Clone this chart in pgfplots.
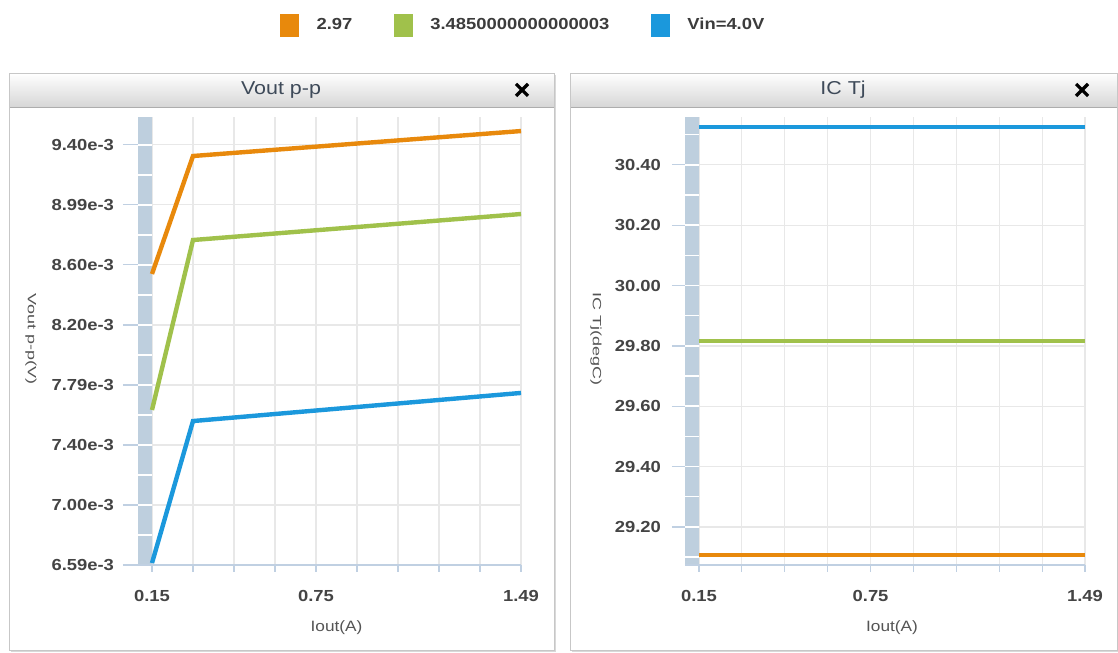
\documentclass[border=0pt]{standalone}
\usepackage{pgfplots}
\pgfplotsset{compat=1.18}
\usepackage{fontspec}
\setmainfont{Liberation Sans}[FakeStretch=1.15]
\newfontfamily\vfont{Liberation Sans}[FakeStretch=1.5]
\definecolor{cO}{RGB}{232,137,12}
\definecolor{cG}{RGB}{160,193,75}
\definecolor{cB}{RGB}{27,152,220}
\definecolor{band}{RGB}{190,207,222}
\definecolor{axl}{RGB}{192,208,226}
\definecolor{gridc}{RGB}{232,232,232}
\definecolor{tickc}{RGB}{68,68,68}
\definecolor{labc}{RGB}{85,85,85}
\definecolor{titlec}{RGB}{62,74,89}
\definecolor{legc}{RGB}{60,60,60}
\pgfplotsset{panel/.style={
  scale only axis, anchor=south west, height=336pt, clip=false,
  axis line style={draw=none},
  scaled y ticks=false, scaled x ticks=false,
  tick align=outside, xtick pos=bottom, ytick pos=left,
  major tick length=5.25pt,
  xtick style={axl, line width=0.8pt},
  ytick style={draw=none},
  grid=major, major grid style={gridc, line width=0.8pt},
  ticklabel style={font=\bfseries\fontsize{12}{14}\selectfont, text=tickc},
  yticklabel style={anchor=east, xshift=-19.75pt},
  xticklabel style={yshift=-10pt},
  every axis x label/.style={at={(axis description cs:0.5,-0.14)}, anchor=center, font=\fontsize{11.25}{13}\selectfont, text=labc},
  xmin=0.15, xmax=1.49,
  xtick={0.15,0.298889,0.447778,0.596667,0.745556,0.894444,1.043333,1.192222,1.341111,1.49},
  xticklabels={0.15,,,,0.75,,,,,1.49},
  every axis plot/.append style={line width=3.3pt},
  xlabel={Iout(A)},
}}
\begin{document}
\begin{tikzpicture}[x=0.75pt,y=0.75pt]
\useasboundingbox (0,0) rectangle (1118,653);
\fill[white] (0,0) rectangle (1118,653);
\foreach \a/\b in {9/554,570/1117} {
  \fill[black!15] (\a+2,1) rectangle (\b+2,578);
  \fill[white] (\a,3) rectangle (\b,580);
  \shade[top color=white, bottom color=black!16] (\a,546) rectangle (\b,580);
  \draw[black!32] (\a,546) -- (\b,546);
  \draw[black!22] (\a,3) rectangle (\b,580);
}
\node[font=\fontsize{14}{16}\selectfont, text=titlec] at (281,563) {Vout p-p};
\node[font=\fontsize{14}{16}\selectfont, text=titlec] at (843,563) {IC Tj};
\draw[line width=2.4pt] (516,557) -- (528,569) (516,569) -- (528,557);
\draw[line width=2.4pt] (1076,557) -- (1088,569) (1076,569) -- (1088,557);

% ---------- left panel ----------
\begin{axis}[panel, at={(114pt,66pt)}, width=276.75pt,
  every axis y label/.style={at={(axis description cs:-0.328,0.504)}, rotate=-90, anchor=center, font=\vfont\fontsize{9}{10}\selectfont, text=labc},
  ylabel={Vout p-p(V)},
  ymin=6.59e-3, ymax=9.587e-3,
  ytick={6.59e-3,6.99143e-3,7.39286e-3,7.79429e-3,8.19571e-3,8.59714e-3,8.99857e-3,9.4e-3},
  yticklabels={6.59e-3,7.00e-3,7.40e-3,7.79e-3,8.20e-3,8.60e-3,8.99e-3,9.40e-3},
  legend style={at={(axis description cs:1.004,1.205)}, anchor=center, draw=none, fill=none,
    legend columns=3, font=\bfseries\fontsize{12}{14}\selectfont, text=legc,
    nodes={inner sep=0pt},
    /tikz/every odd column/.append style={column sep=13.5pt},
    /tikz/every even column/.append style={column sep=31.5pt}},
  legend image code/.code={\fill[#1, line width=0pt] (0pt,-8.25pt) rectangle (13.5pt,8.25pt);},
]
\fill[band] (rel axis cs:-0.038,0) rectangle (rel axis cs:0,1);
\pgfplotsinvokeforeach{1,...,14}{\draw[white, line width=1.2pt] (rel axis cs:-0.038,{#1*30/448}) -- (rel axis cs:0,{#1*30/448});}
\pgfplotsinvokeforeach{6.59e-3,6.99143e-3,7.39286e-3,7.79429e-3,8.19571e-3,8.59714e-3,8.99857e-3,9.4e-3}{\draw[axl, line width=0.8pt] ({rel axis cs:-0.079,0}|-{axis cs:0.15,#1}) -- ({rel axis cs:-0.038,0}|-{axis cs:0.15,#1});}
\draw[axl, line width=0.8pt] (rel axis cs:-0.038,0) -- (rel axis cs:1,0);
\addplot[cO] coordinates {(0.15,8.537e-3) (0.298889,9.326e-3) (1.49,9.493e-3)};
\addplot[cG] coordinates {(0.15,7.627e-3) (0.298889,8.764e-3) (1.49,8.938e-3)};
\addplot[cB] coordinates {(0.15,6.603e-3) (0.298889,7.553e-3) (1.49,7.741e-3)};
\legend{2.97,3.4850000000000003,Vin=4.0V}
\end{axis}

% ---------- right panel ----------
\begin{axis}[panel, at={(524.25pt,66pt)}, width=289.5pt,
  every axis y label/.style={at={(axis description cs:-0.267,0.504)}, rotate=-90, anchor=center, font=\vfont\fontsize{9}{10}\selectfont, text=labc},
  ylabel={IC Tj(degC)},
  ymin=29.074, ymax=30.559,
  ytick={29.2,29.4,29.6,29.8,30.0,30.2,30.4},
  yticklabels={29.20,29.40,29.60,29.80,30.00,30.20,30.40},
]
\fill[band] (rel axis cs:-0.0363,0) rectangle (rel axis cs:0,1);
\pgfplotsinvokeforeach{0,...,14}{\draw[white, line width=1.2pt] (rel axis cs:-0.0363,{(8+#1*30.17)/448}) -- (rel axis cs:0,{(8+#1*30.17)/448});}
\pgfplotsinvokeforeach{29.2,29.4,29.6,29.8,30.0,30.2,30.4}{\draw[axl, line width=0.8pt] ({rel axis cs:-0.07,0}|-{axis cs:0.15,#1}) -- ({rel axis cs:-0.0363,0}|-{axis cs:0.15,#1});}
\draw[axl, line width=0.8pt] (rel axis cs:-0.0363,0) -- (rel axis cs:1,0);
\addplot[cO] coordinates {(0.15,29.107) (0.298889,29.107) (1.49,29.107)};
\addplot[cG] coordinates {(0.15,29.817) (0.298889,29.817) (1.49,29.817)};
\addplot[cB] coordinates {(0.15,30.526) (0.298889,30.526) (1.49,30.526)};
\end{axis}
\end{tikzpicture}
\end{document}
